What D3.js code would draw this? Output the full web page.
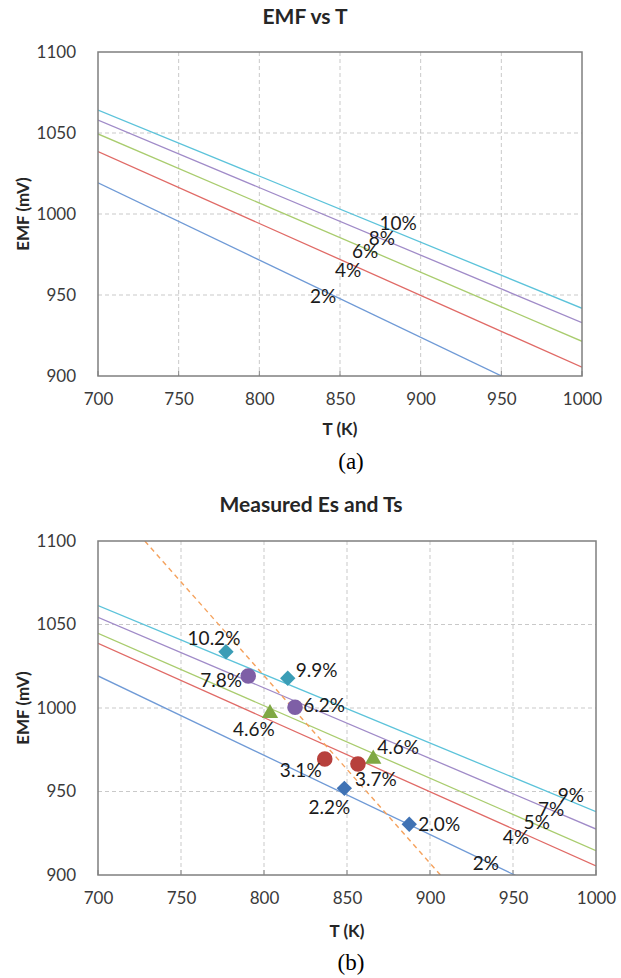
<!DOCTYPE html>
<html>
<head>
<meta charset="utf-8">
<script src="https://cdn.jsdelivr.net/npm/d3@7"></script>
<style>
  html, body { margin: 0; padding: 0; background: #fff; }
  svg { display: block; font-family: Lato, "Open Sans", sans-serif; }
  .tick-label { font-size: 17px; fill: #3a3a3a; }
  .axis-title { font-size: 17px; font-weight: bold; fill: #262626; }
  .chart-title { font-size: 21px; font-weight: bold; fill: #262626; }
  .pct { font-size: 19px; fill: #1a1a1a; }
  .caption { font-family: "Liberation Serif", "Times New Roman", serif; font-size: 23px; fill: #000; }
</style>
</head>
<body>
<svg id="fig" width="621" height="978"></svg>
<script>
// Shared axis ticks
const T_TICKS = [700, 750, 800, 850, 900, 950, 1000];
const E_TICKS = [900, 950, 1000, 1050, 1100];

// (a) EMF vs T: straight lines, EMF at T=700 and T=1000
const A_NAMES = ["2%", "4%", "6%", "8%", "10%"];
const A_E700 = [1019.3, 1038.5, 1049.4, 1058.0, 1064.2];
const A_E1000 = [876.2, 905.4, 921.4, 932.9, 941.8];
// where each line label sits (T, EMF)
const A_LABEL_T = [839.5, 855, 865.5, 876, 886];
const A_LABEL_E = [950, 966, 977.2, 985.8, 995];

// (b) Measured Es and Ts
const B_NAMES = ["2%", "4%", "5%", "7%", "9%"];
const B_E700 = [1019.2, 1038.7, 1044.7, 1054.3, 1061.3];
const B_E1000 = [876.7, 905.4, 914.6, 927.5, 937.9];
const B_LABEL_T = [933.7, 951.8, 964.3, 972.9, 984.8];
const B_LABEL_E = [907.4, 922.9, 932.3, 940.0, 948.3];

// dashed orange line (two end points)
const DASH_T = [728.2, 906.3];
const DASH_E = [1100, 900];

// measured points
const PT_T = [777.1, 814.3, 790.5, 818.7, 803.6, 865.8, 836.6, 856.6, 848.4, 887.5];
const PT_E = [1033.7, 1017.8, 1019.2, 1000.4, 996.8, 969.5, 969.5, 966.5, 951.9, 930.4];
const PT_LABEL = ["10.2%", "9.9%", "7.8%", "6.2%", "4.6%", "4.6%", "3.1%", "3.7%", "2.2%", "2.0%"];
const PT_GROUP = ["cyan", "cyan", "purple", "purple", "green", "green", "red", "red", "blue", "blue"];

// ---- styles ----
const LINE_COLORS = ["#6f9ad6", "#e06a66", "#a9cc6e", "#a08bc8", "#5cc3da"];
const MARKERS = {
  cyan:   { shape: "diamond",  fill: "#3a9db6" },
  purple: { shape: "circle",   fill: "#7e5fa6" },
  green:  { shape: "triangle", fill: "#7fa843" },
  red:    { shape: "circle",   fill: "#b7403c" },
  blue:   { shape: "diamond",  fill: "#3f72b4" }
};
// label offset from its marker, px (Excel left/right/above/below)
const PT_LABEL_DX = [-12, 29, -27, 29, -16, 25, -24, 18, -15, 30];
const PT_LABEL_DY = [-14, -9, 4, -3, 15, -12, 11, 15, 18, -1];

const svg = d3.select("#fig");

function drawPanel(cfg) {
  const g = svg.append("g");
  const x = d3.scaleLinear().domain([700, 1000]).range([cfg.x0, cfg.x1]);
  const y = d3.scaleLinear().domain([900, 1100]).range([cfg.y1, cfg.y0]);

  const clipId = "clip-" + cfg.id;
  g.append("clipPath").attr("id", clipId)
    .append("rect")
    .attr("x", cfg.x0).attr("y", cfg.y0)
    .attr("width", cfg.x1 - cfg.x0).attr("height", cfg.y1 - cfg.y0);

  // gridlines
  g.append("g").selectAll("line.vg")
    .data(T_TICKS.slice(1, -1)).join("line")
    .attr("x1", d => x(d)).attr("x2", d => x(d))
    .attr("y1", cfg.y0).attr("y2", cfg.y1)
    .attr("stroke", "#c9c9c9").attr("stroke-width", 1)
    .attr("stroke-dasharray", "4,3");
  g.append("g").selectAll("line.hg")
    .data(E_TICKS.slice(1, -1)).join("line")
    .attr("x1", cfg.x0).attr("x2", cfg.x1)
    .attr("y1", d => y(d)).attr("y2", d => y(d))
    .attr("stroke", "#c9c9c9").attr("stroke-width", 1)
    .attr("stroke-dasharray", "4,3");

  // axes: labels only, small inside ticks on x
  const fmt = d3.format("d");
  const xAxis = d3.axisBottom(x).tickValues(T_TICKS).tickFormat(fmt).tickSize(0).tickPadding(17);
  const xg = g.append("g").attr("transform", `translate(0,${cfg.y1})`).call(xAxis);
  xg.select(".domain").remove();
  xg.attr("font-size", null).attr("font-family", null);
  xg.selectAll("text").attr("class", "tick-label").attr("fill", null);
  g.append("g").selectAll("line.tk")
    .data(T_TICKS).join("line")
    .attr("x1", d => x(d)).attr("x2", d => x(d))
    .attr("y1", cfg.y1).attr("y2", cfg.y1 - 5)
    .attr("stroke", "#868686");

  const yAxis = d3.axisLeft(y).tickValues(E_TICKS).tickFormat(fmt).tickSize(0).tickPadding(22);
  const yg = g.append("g").attr("transform", `translate(${cfg.x0},0)`).call(yAxis);
  yg.select(".domain").remove();
  yg.attr("font-size", null).attr("font-family", null);
  yg.selectAll("text").attr("class", "tick-label").attr("fill", null);

  // series lines
  const lineGen = d3.line().x(d => x(d[0])).y(d => y(d[1]));
  const plotLayer = g.append("g").attr("clip-path", `url(#${clipId})`);
  cfg.names.forEach((name, i) => {
    plotLayer.append("path")
      .datum([[700, cfg.e700[i]], [1000, cfg.e1000[i]]])
      .attr("d", lineGen)
      .attr("fill", "none")
      .attr("stroke", LINE_COLORS[i])
      .attr("stroke-width", 1.3);
  });

  if (cfg.dash) {
    plotLayer.append("path")
      .datum(cfg.dash.t.map((t, i) => [t, cfg.dash.e[i]]))
      .attr("d", lineGen)
      .attr("fill", "none")
      .attr("stroke", "#f5a25d")
      .attr("stroke-width", 1.4)
      .attr("stroke-dasharray", "5,4");
  }

  // plot border
  g.append("rect")
    .attr("x", cfg.x0).attr("y", cfg.y0)
    .attr("width", cfg.x1 - cfg.x0).attr("height", cfg.y1 - cfg.y0)
    .attr("fill", "none").attr("stroke", "#7f7f7f").attr("stroke-width", 1.5);

  // line labels
  g.append("g").selectAll("text")
    .data(cfg.names).join("text")
    .attr("class", "pct")
    .attr("x", (d, i) => x(cfg.labelT[i]))
    .attr("y", (d, i) => y(cfg.labelE[i]))
    .attr("text-anchor", "middle")
    .attr("dominant-baseline", "central")
    .text(d => d);

  // measured points
  if (cfg.points) {
    const sym = {
      diamond: d3.symbol().type(d3.symbolDiamond2).size(150),
      circle: d3.symbol().type(d3.symbolCircle).size(190),
      triangle: d3.symbol().type(d3.symbolTriangle).size(115)
    };
    const pts = PT_T.map((t, i) => ({ t, e: PT_E[i], label: PT_LABEL[i], grp: PT_GROUP[i], i }));
    g.append("g").selectAll("path")
      .data(pts).join("path")
      .attr("transform", d => `translate(${x(d.t)},${y(d.e)})`)
      .attr("d", d => sym[MARKERS[d.grp].shape]())
      .attr("fill", d => MARKERS[d.grp].fill);
    g.append("g").selectAll("text")
      .data(pts).join("text")
      .attr("class", "pct")
      .attr("x", d => x(d.t) + PT_LABEL_DX[d.i])
      .attr("y", d => y(d.e) + PT_LABEL_DY[d.i])
      .attr("text-anchor", "middle")
      .attr("dominant-baseline", "central")
      .text(d => d.label);
  }

  // titles
  g.append("text").attr("class", "chart-title")
    .attr("x", cfg.titleX).attr("y", cfg.titleY)
    .attr("text-anchor", "middle").attr("dominant-baseline", "central")
    .text(cfg.title);
  g.append("text").attr("class", "axis-title")
    .attr("x", (cfg.x0 + cfg.x1) / 2).attr("y", cfg.xTitleY)
    .attr("text-anchor", "middle").attr("dominant-baseline", "central")
    .text("T (K)");
  g.append("text").attr("class", "axis-title")
    .attr("transform", `translate(22,${(cfg.y0 + cfg.y1) / 2}) rotate(-90)`)
    .attr("text-anchor", "middle").attr("dominant-baseline", "central")
    .text("EMF  (mV)");
  g.append("text").attr("class", "caption")
    .attr("x", cfg.capX).attr("y", cfg.capY)
    .attr("text-anchor", "middle").attr("dominant-baseline", "central")
    .text(cfg.caption);
}

drawPanel({
  id: "a", x0: 98, x1: 582, y0: 52, y1: 376,
  names: A_NAMES, e700: A_E700, e1000: A_E1000,
  labelT: A_LABEL_T, labelE: A_LABEL_E,
  title: "EMF vs T", titleX: 305, titleY: 15,
  xTitleY: 428, caption: "(a)", capX: 351, capY: 461
});

drawPanel({
  id: "b", x0: 98, x1: 596, y0: 541, y1: 875,
  names: B_NAMES, e700: B_E700, e1000: B_E1000,
  labelT: B_LABEL_T, labelE: B_LABEL_E,
  dash: { t: DASH_T, e: DASH_E },
  points: true,
  title: "Measured Es and Ts", titleX: 311, titleY: 503,
  xTitleY: 930, caption: "(b)", capX: 351, capY: 962
});
</script>
</body>
</html>
